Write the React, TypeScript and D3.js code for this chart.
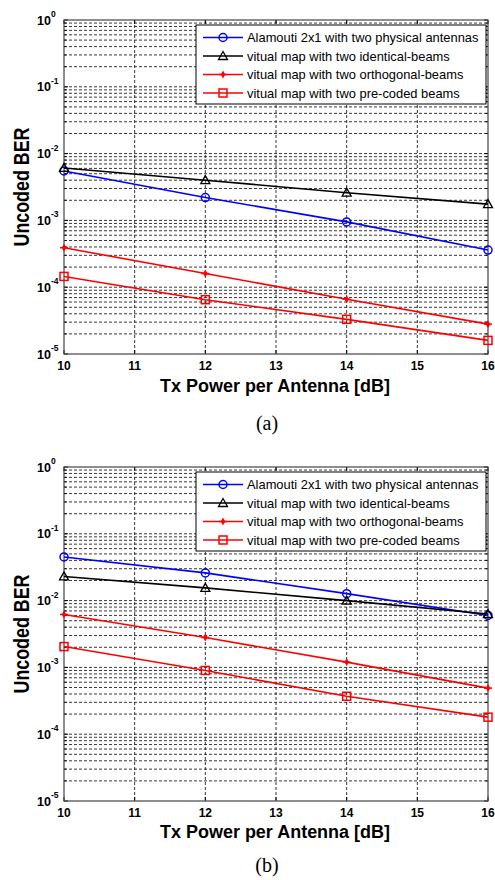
import React from 'react'
import * as d3 from 'd3'

// x values (Tx power, dB)
const txPower = [10, 12, 14, 16]
const xTicks = [10, 11, 12, 13, 14, 15, 16]
const decades = [0, -1, -2, -3, -4, -5]

const seriesNames = [
  'Alamouti 2x1 with two physical antennas',
  'vitual map with two identical-beams',
  'vitual map with two orthogonal-beams',
  'vitual map with two pre-coded beams'
]

// panel (a)
const alamoutiA = [5.5e-3, 2.2e-3, 9.5e-4, 3.6e-4]
const identicalA = [6.1e-3, 4.0e-3, 2.6e-3, 1.75e-3]
const orthogonalA = [3.9e-4, 1.6e-4, 6.6e-5, 2.8e-5]
const precodedA = [1.45e-4, 6.5e-5, 3.3e-5, 1.6e-5]

// panel (b)
const alamoutiB = [4.5e-2, 2.6e-2, 1.27e-2, 6.0e-3]
const identicalB = [2.3e-2, 1.55e-2, 1.0e-2, 6.3e-3]
const orthogonalB = [6.2e-3, 2.8e-3, 1.2e-3, 4.9e-4]
const precodedB = [2.05e-3, 9e-4, 3.7e-4, 1.8e-4]

const styles = [
  { color: '#0000ff', marker: 'circle' },
  { color: '#000000', marker: 'triangle' },
  { color: '#ff0000', marker: 'diamond' },
  { color: '#ff0000', marker: 'square' }
]

const sans = 'Arial, "Liberation Sans", Helvetica, sans-serif'

const Marker = ({ type, x, y, color }: { type: string; x: number; y: number; color: string }) => {
  if (type === 'circle')
    return <circle cx={x} cy={y} r={4} fill="none" stroke={color} strokeWidth={1.5} />
  if (type === 'triangle')
    return (
      <path
        d={`M${x},${y - 4.5}L${x + 4.5},${y + 3.5}L${x - 4.5},${y + 3.5}Z`}
        fill="none"
        stroke={color}
        strokeWidth={1.3}
      />
    )
  if (type === 'square')
    return <rect x={x - 4} y={y - 4} width={8} height={8} fill="none" stroke={color} strokeWidth={1.5} />
  return (
    <g>
      <path d={`M${x},${y - 4}L${x + 2.2},${y}L${x},${y + 4}L${x - 2.2},${y}Z`} fill={color} />
      <path d={`M${x - 4},${y}H${x + 4}`} stroke={color} strokeWidth={1.5} />
    </g>
  )
}

const Panel = ({ top, data, caption, captionY, xLabelDy }: { top: number; data: number[][]; caption: string; captionY: number; xLabelDy: number }) => {
  const left = 64
  const right = 488
  const bottom = top + 334
  const x = d3.scaleLinear().domain([10, 16]).range([left, right])
  const y = d3.scaleLog().domain([1e-5, 1]).range([bottom, top])

  const minor: number[] = []
  decades.slice(1).forEach(e => {
    for (let m = 2; m <= 9; m++) minor.push(m * Math.pow(10, e))
  })
  const line = d3
    .line<number>()
    .x((_, i) => x(txPower[i]))
    .y(d => y(d))

  const legX = 196
  const legY = top + 5

  return (
    <g>
      <rect x={left} y={top} width={right - left} height={bottom - top} fill="#fff" />
      {/* grid */}
      <g stroke="#222" strokeWidth={0.9} strokeDasharray="3,2">
        {xTicks.slice(1, -1).map(t => (
          <line key={'gx' + t} x1={x(t)} x2={x(t)} y1={top} y2={bottom} />
        ))}
        {decades.slice(1, -1).map(e => (
          <line key={'gy' + e} x1={left} x2={right} y1={y(Math.pow(10, e))} y2={y(Math.pow(10, e))} />
        ))}
        {minor.map(v => (
          <line key={'gm' + v} x1={left} x2={right} y1={y(v)} y2={y(v)} />
        ))}
      </g>
      {/* ticks */}
      <g stroke="#000" strokeWidth={1}>
        {xTicks.map(t => (
          <g key={'tx' + t}>
            <line x1={x(t)} x2={x(t)} y1={bottom} y2={bottom - 4} />
            <line x1={x(t)} x2={x(t)} y1={top} y2={top + 4} />
          </g>
        ))}
        {decades.map(e => (
          <g key={'ty' + e}>
            <line x1={left} x2={left + 4} y1={y(Math.pow(10, e))} y2={y(Math.pow(10, e))} />
            <line x1={right} x2={right - 4} y1={y(Math.pow(10, e))} y2={y(Math.pow(10, e))} />
          </g>
        ))}
        {minor.map(v => (
          <g key={'tm' + v}>
            <line x1={left} x2={left + 2.5} y1={y(v)} y2={y(v)} />
            <line x1={right} x2={right - 2.5} y1={y(v)} y2={y(v)} />
          </g>
        ))}
      </g>
      <rect x={left} y={top} width={right - left} height={bottom - top} fill="none" stroke="#444" strokeWidth={1.2} />
      {/* series */}
      {data.map((vals, i) => (
        <g key={'s' + i}>
          <path d={line(vals) || ''} fill="none" stroke={styles[i].color} strokeWidth={1.6} />
          {vals.map((v, j) => (
            <Marker key={j} type={styles[i].marker} x={x(txPower[j])} y={y(v)} color={styles[i].color} />
          ))}
        </g>
      ))}
      {/* y tick labels */}
      {decades.map(e => (
        <g key={'ly' + e} fontFamily={sans} fontWeight="bold" fill="#000">
          <text x={51} y={y(Math.pow(10, e)) + 4.5} fontSize={12.5} textAnchor="end">10</text>
          <text x={51} y={y(Math.pow(10, e)) - 3} fontSize={8.5}>{e}</text>
        </g>
      ))}
      {/* x tick labels */}
      {xTicks.map(t => (
        <text key={'lx' + t} x={x(t)} y={bottom + 16} fontFamily={sans} fontWeight="bold" fontSize={12} textAnchor="middle">
          {t}
        </text>
      ))}
      <text
        x={275}
        y={bottom + xLabelDy}
        fontFamily={sans}
        fontWeight="bold"
        fontSize={18}
        textAnchor="middle"
        textLength={230}
        lengthAdjust="spacingAndGlyphs"
      >
        Tx Power per Antenna [dB]
      </text>
      <text
        transform={`translate(29,${(top + bottom) / 2}) rotate(-90)`}
        fontFamily={sans}
        fontWeight="bold"
        fontSize={22}
        textAnchor="middle"
        textLength={119}
        lengthAdjust="spacingAndGlyphs"
      >
        Uncoded BER
      </text>
      {/* legend */}
      <rect x={legX} y={legY} width={290} height={79} fill="#fff" stroke="#000" strokeWidth={1} />
      {seriesNames.map((name, i) => {
        const ly = legY + 12.5 + i * 18.5
        return (
          <g key={'lg' + i}>
            <line x1={legX + 7} x2={legX + 47} y1={ly} y2={ly} stroke={styles[i].color} strokeWidth={1.6} />
            <Marker type={styles[i].marker} x={legX + 27} y={ly} color={styles[i].color} />
            <text x={legX + 51} y={ly + 4.5} fontFamily={sans} fontSize={12.9} fill="#000">
              {name}
            </text>
          </g>
        )
      })}
      <text x={267} y={captionY} fontFamily='"Liberation Serif", "Times New Roman", serif' fontSize={20} textAnchor="middle">
        {caption}
      </text>
    </g>
  )
}

export default function App() {
  return (
    <svg width={495} height={880} style={{ position: 'absolute', left: 0, top: 0, background: '#fff' }}>
      <rect width={495} height={880} fill="#fff" />
      <Panel top={20} data={[alamoutiA, identicalA, orthogonalA, precodedA]} caption="(a)" captionY={430} xLabelDy={38} />
      <Panel top={467} data={[alamoutiB, identicalB, orthogonalB, precodedB]} caption="(b)" captionY={872} xLabelDy={37} />
    </svg>
  )
}
